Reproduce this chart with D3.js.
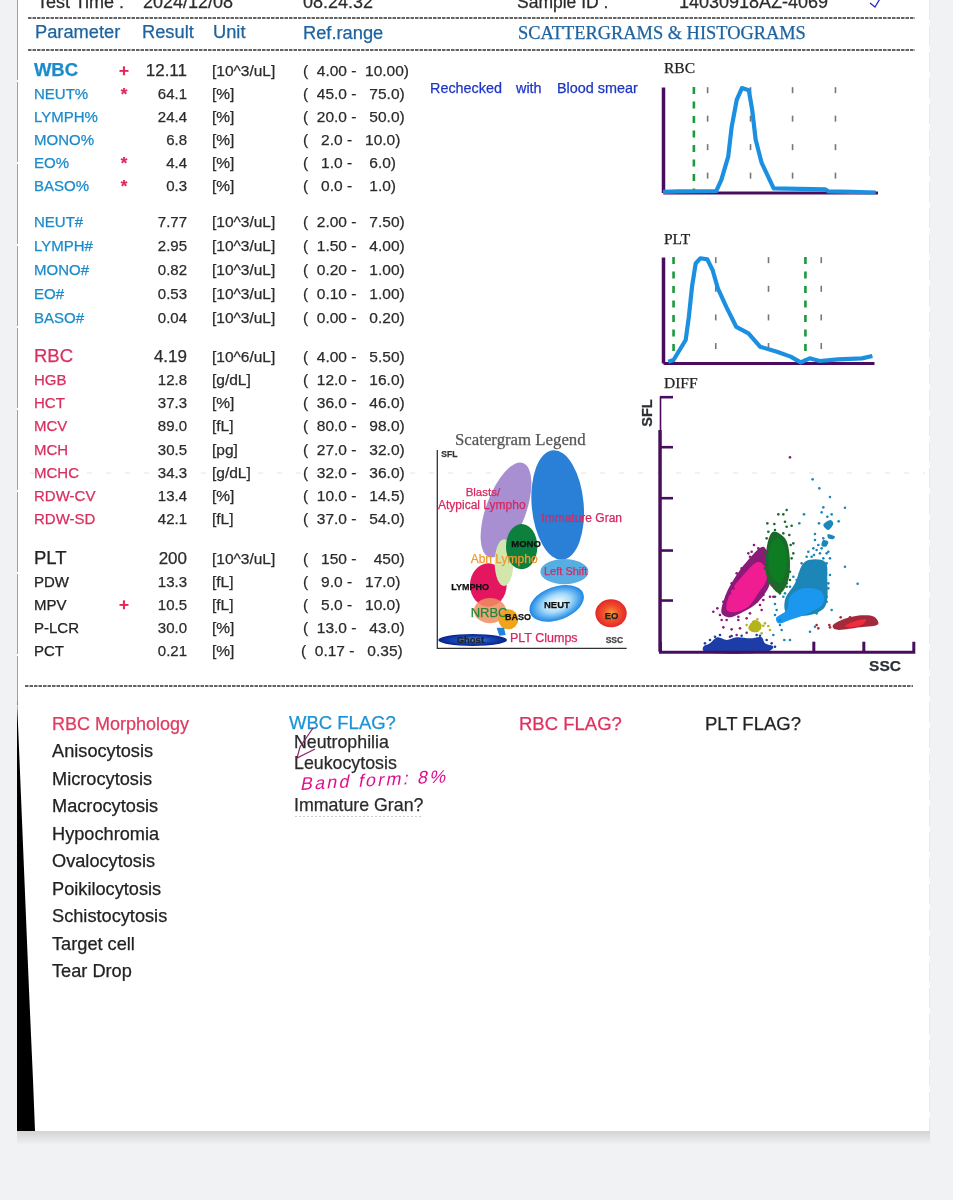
<!DOCTYPE html>
<html>
<head>
<meta charset="utf-8">
<script src="https://cdn.jsdelivr.net/npm/d3@7"></script>
<style>
  html, body { margin: 0; padding: 0; background: #f1f2f4; }
  svg { display: block; }
  text { font-family: "Liberation Sans", Arial, sans-serif; white-space: pre; }
  .serif { font-family: "Liberation Serif", serif; }
</style>
</head>
<body>
<svg width="953" height="1200"></svg>
<script>
// report table
var parameters = ["WBC","NEUT%","LYMPH%","MONO%","EO%","BASO%",
    "NEUT#","LYMPH#","MONO#","EO#","BASO#",
    "RBC","HGB","HCT","MCV","MCH","MCHC","RDW-CV","RDW-SD",
    "PLT","PDW","MPV","P-LCR","PCT"];
var results = ["12.11","64.1","24.4","6.8","4.4","0.3",
    "7.77","2.95","0.82","0.53","0.04",
    "4.19","12.8","37.3","89.0","30.5","34.3","13.4","42.1",
    "200","13.3","10.5","30.0","0.21"];
var units = ["[10^3/uL]","[%]","[%]","[%]","[%]","[%]",
    "[10^3/uL]","[10^3/uL]","[10^3/uL]","[10^3/uL]","[10^3/uL]",
    "[10^6/uL]","[g/dL]","[%]","[fL]","[pg]","[g/dL]","[%]","[fL]",
    "[10^3/uL]","[fL]","[fL]","[%]","[%]"];
var refLow = ["4.00","45.0","20.0","2.0","1.0","0.0",
    "2.00","1.50","0.20","0.10","0.00",
    "4.00","12.0","36.0","80.0","27.0","32.0","10.0","37.0",
    "150","9.0","5.0","13.0","0.17"];
var refHigh = ["10.00","75.0","50.0","10.0","6.0","1.0",
    "7.50","4.00","1.00","1.00","0.20",
    "5.50","16.0","46.0","98.0","32.0","36.0","14.5","54.0",
    "450","17.0","10.0","43.0","0.35"];
var flags = ["+","*","","","*","*",
    "","","","","",
    "","","","","","","","",
    "","","+","",""];
var groupSizes = [6, 5, 8, 5];

var morphology = ["Anisocytosis","Microcytosis","Macrocytosis","Hypochromia","Ovalocytosis",
    "Poikilocytosis","Schistocytosis","Target cell","Tear Drop"];
var wbcFlags = ["Neutrophilia","Leukocytosis","","Immature Gran?"];

// histograms: [volume in fL, relative count %]
var rbcCurve = [[0,0.5],[18,1],[62,1.4],[68,12],[76,34],[80,62],[86,88],[92,99],[100,97],[104,78],
    [108,50],[115,28],[129,4],[189,3],[193,1],[221,0.5],[248,0]];
var pltCurve = [[1,1.2],[2,2.8],[4.3,21.7],[4.9,43.7],[5.5,72],[6.2,94],[7.1,98.8],[8.4,97.8],[9.4,87.7],
    [10.4,70.4],[12,53],[13.9,34],[16.2,28],[18.4,15.4],[21.6,10.7],[24.2,6],[26.1,0.6],[27.8,4.4],
    [29.7,1.9],[33.2,3.5],[37.7,4.4],[39.7,6.6]];
var rbcGates = [36];
var pltGates = [2, 27];
var rbcGuideX = [52, 102, 151, 201];
var pltGuideX = [10, 20, 30];
var guideRows = [97, 70, 43, 16];

// DIFF scattergram, [SSC, SFL] channels. Dense populations are outlines, stray events are dots
var ghostArea = [[130,3],[130,15],[150,25],[172,43],[200,35],[230,43],[270,40],[305,43],[315,25],[340,15],[330,3]];
var lymphOuter = [[185,115],[195,165],[220,215],[260,270],[310,315],[328,275],[330,205],[295,150],[250,120],[205,103]];
var lymphInner = [[200,125],[210,175],[245,225],[295,270],[315,255],[320,215],[295,175],[265,135],[220,118]];
var monoOuter = [[325,335],[340,360],[375,340],[388,295],[385,215],[360,175],[335,195],[318,235]];
var monoInner = [[335,325],[355,340],[375,315],[380,255],[360,205],[335,225],[325,265]];
var neutUpper = [[435,270],[495,270],[502,215],[495,135],[450,110],[380,115],[375,155],[405,205]];
var neutLower = [[348,100],[380,125],[390,165],[430,190],[485,180],[490,145],[445,115],[390,95],[355,85]];
var neutSmallA = [[490,380],[512,395],[520,385],[505,365]];
var neutSmallB = [[490,335],[505,330],[497,315],[485,318]];
var neutSmallC = [[503,352],[525,345],[520,338],[505,340]];
var basoArea = [[265,70],[285,95],[305,80],[295,60],[275,60]];
var eoOuter = [[518,77],[550,97],[610,109],[645,103],[655,83],[600,73],[525,67]];
var eoInner = [[555,77],[590,93],[618,97],[610,83],[570,73]];

var neutDots = [[458,517],[478,490],[510,464],[555,432],[490,433],[485,418],[515,412],[502,405],[536,391],
    [477,385],[432,412],[418,385],[465,353],[465,335],[555,255],[593,204],[510,280],[500,295],[470,305],
    [480,295],[485,310],[462,290],[505,205],[500,165],[515,125],[350,125],[345,143],[370,165],[360,80],
    [365,65],[340,50],[390,35],[373,35],[450,60],[465,75],[440,285],[420,235],[410,215],[390,195],
    [500,265],[510,230],[505,190],[500,150],[470,115],[360,95],[345,110],[375,175],[400,225],[425,265],
    [455,285],[490,280],[445,300],[475,320],[460,310],[490,340],[505,300],[480,270]];
var monoDots = [[380,425],[355,412],[370,412],[322,385],[343,383],[375,390],[380,375],[395,378],[340,355],
    [325,360],[388,350],[400,325],[400,295],[390,215],[380,195],[360,175],[350,190],
    [320,340],[345,365],[370,355],[392,320],[395,280],[390,240],[380,205],[345,165],[325,205],[315,250],[312,300]];
var lymphDots = [[390,583],[282,320],[275,300],[265,295],[255,255],[235,220],[220,190],[210,175],[172,130],
    [160,120],[185,95],[200,95],[235,95],[260,100],[190,73],[215,67],[240,70],[260,57],[230,50],[210,45],
    [290,150],[310,155],[330,165],[340,165],[305,125],
    [180,110],[190,150],[200,165],[215,205],[230,235],[245,250],[270,285],[295,310],[320,300],[335,200],[310,170],[300,140],[270,115],[235,105]];
var basoDots = [[270,75],[280,90],[292,97],[288,80],[300,70],[315,85],[325,77],[282,63],[305,55],[330,65],
    [260,80],[295,87],[285,72],[310,78],[275,82]];
var eoDots = [[470,80],[475,70],[510,73],[508,80],[542,103],[570,103]];
var ghostDots = [[135,25],[150,35],[165,45],[180,50],[215,47],[245,48],[290,50],[300,48],[320,35],[335,25],[345,15]];
var sflTicks = [155, 305, 462, 615, 765];
var sscTicks = [460, 610];

// scattergram legend, [SSC, SFL, rx, ry, tilt] in the legend's own units
var legendNames = ["Blast","Immature","LeftShift","Lympho","Nrbc","Abn","Mono","Baso","Neut","Eo","Ghost"];
var legendShapes = [[206,415,60,150,20],[361,430,78,165,-5],[381,230,72,38,0],[153,190,55,65,0],[158,113,48,38,0],
    [200,257,28,70,0],[253,305,47,68,0],[213,87,30,30,0],[358,135,85,50,-20],[521,105,47,42,0],[106,25,103,18,0]];
var legendFills = ["#a78fd2","#2a80d6","#58aee2","#e4175f","#ee8d62","#d3e6ad","#10803c","#f0a41c",
    "url(#neutGrad)","url(#eoGrad)","url(#ghostGrad)"];
var legendLabels = ["Blasts/","Atypical Lympho","Immature Gran","MONO","Abn Lympho","Left Shift","LYMPHO","NRBC","BASO","NEUT","EO","Ghost","PLT Clumps","SSC","SFL"];
var legendLabelAt = [[85,458],[2,418],[312,380],[222,305],[100,255],[320,220],[42,175],[100,95],[203,85],[320,120],[502,88],[58,15],[218,20],[505,15],[12,575]];
var legendColors = ["#d6285f","#d6285f","#d6285f","#111","#f09a2e","#d6285f","#111","#1d8a3a","#111","#111","#222","#222","#d6285f","#444","#333"];
var legendSizes = [11.5,12,12,9.5,12,11,9,13,9,9.5,9.5,9.5,12.5,8.5,8.5];

var svg = d3.select("svg");

var defs = svg.append("defs");
defs.append("filter").attr("id", "soft")
    .attr("x", 0).attr("y", 0).attr("width", "100%").attr("height", "100%")
    .append("feGaussianBlur").attr("stdDeviation", 0.4);
function radial(id, stops) {
    var g = defs.append("radialGradient").attr("id", id);
    stops.forEach(function (s, i) {
        g.append("stop").attr("offset", i / (stops.length - 1)).attr("stop-color", s);
    });
}
radial("neutGrad", ["#ffffff", "#a8dcf8", "#1b86e6"]);
radial("eoGrad", ["#f6a23a", "#f0532c", "#e5262a"]);
radial("ghostGrad", ["#5aa0d8", "#1a4ab8", "#07208c"]);
var shade = defs.append("linearGradient").attr("id", "paperShade")
    .attr("x1", 0).attr("x2", 0).attr("y1", 0).attr("y2", 1);
shade.append("stop").attr("offset", 0).attr("stop-color", "#d2d3d5");
shade.append("stop").attr("offset", 1).attr("stop-color", "#f1f2f4");

// paper
svg.append("rect").attr("width", 953).attr("height", 1200).attr("fill", "#f1f2f4");
svg.append("rect").attr("x", 17).attr("y", 1131).attr("width", 913).attr("height", 14).attr("fill", "url(#paperShade)");
svg.append("rect").attr("x", 17).attr("width", 913).attr("height", 1131).attr("fill", "#fff");
svg.append("line").attr("x1", 17.5).attr("x2", 17.5).attr("y1", 0).attr("y2", 705)
    .attr("stroke", "#888").attr("stroke-width", 0.8).attr("stroke-dasharray", "80 2");
svg.append("line").attr("x1", 929.5).attr("x2", 929.5).attr("y1", 0).attr("y2", 1131)
    .attr("stroke", "#e2e2e2").attr("stroke-width", 0.8).attr("stroke-dasharray", "20 6");
svg.append("path").attr("d", "M17,700L29,990L33,1080L35,1131L17,1131Z").attr("fill", "#000");

var page = svg.append("g").attr("filter", "url(#soft)");

function label(parent, x, y, str, size, color, cls) {
    return parent.append("text").attr("class", cls || null).attr("x", x).attr("y", y)
        .attr("font-size", size).attr("fill", color).text(str);
}

// cut off top line
var topText = "#2b2b2b";
label(page, 37, 8, "Test Time :", 18, topText);
label(page, 143, 8, "2024/12/08", 18, topText);
label(page, 303, 8, "08:24:32", 18, topText);
label(page, 517, 8, "Sample ID :", 17.5, topText);
label(page, 679, 8, "14030918AZ-4069", 18, topText);
page.append("path").attr("d", "M870,3L875,7L881,-3").attr("fill", "none").attr("stroke", "#2a2ac0").attr("stroke-width", 1.3);

[[18, 28, 915], [50, 28, 915], [686, 25, 913]].forEach(function (d) {
    page.append("line").attr("x1", d[1]).attr("x2", d[2]).attr("y1", d[0]).attr("y2", d[0])
        .attr("stroke", "#333").attr("stroke-width", 1.5).attr("stroke-dasharray", "3.5 1");
});
// faint bleed-through from the scanner
page.append("line").attr("x1", 30).attr("x2", 925).attr("y1", 473).attr("y2", 473)
    .attr("stroke", "#e4e4e4").attr("stroke-width", 1).attr("stroke-dasharray", "5 14");

var headColor = "#1d639f";
label(page, 35, 38, "Parameter", 18.3, headColor);
label(page, 142, 38, "Result", 18.3, headColor);
label(page, 213, 38, "Unit", 18.3, headColor);
label(page, 303, 39, "Ref.range", 18.3, headColor);
label(page, 518, 39, "SCATTERGRAMS & HISTOGRAMS", 18.4, headColor, "serif");

// table rows, positioned per group
var groupY = [d3.scaleLinear().domain([0, 5]).range([76, 191]),
    d3.scaleLinear().domain([0, 4]).range([227, 323]),
    d3.scaleLinear().domain([0, 7]).range([362, 524]),
    d3.scaleLinear().domain([0, 4]).range([564, 656])];
var groupColor = ["#1b8bca", "#1b8bca", "#d8305f", "#222"];
var rows = [];
var start = 0;
groupSizes.forEach(function (n, g) {
    d3.range(n).forEach(function (i) {
        rows.push({ i: start + i, g: g, y: groupY[g](i), big: i === 0 && g !== 1 });
    });
    start += n;
});

var row = page.selectAll(".row").data(rows).enter().append("g").attr("class", "row");
row.append("text").attr("x", 34).attr("y", function (d) { return d.big && d.g === 0 ? d.y - 0.5 : d.y; })
    .attr("font-size", function (d) { return d.big ? 18.5 : 15; })
    .attr("font-weight", function (d) { return d.g === 0 && d.big ? "bold" : null; })
    .attr("textLength", function (d) { return d.g === 0 && d.big ? 44 : null; })
    .attr("fill", function (d) { return groupColor[d.g]; })
    .text(function (d) { return parameters[d.i]; });
row.append("text").attr("x", 124).attr("text-anchor", "middle")
    .attr("y", function (d) { return flags[d.i] === "*" ? d.y + 1 : d.y - 0.5; })
    .attr("font-size", 17).attr("font-weight", "bold").attr("fill", "#e3245a")
    .text(function (d) { return flags[d.i]; });
row.append("text").attr("x", 187).attr("y", function (d) { return d.y; }).attr("text-anchor", "end")
    .attr("font-size", function (d) { return d.big ? 17 : 15; }).attr("fill", "#2b2b2b")
    .text(function (d) { return results[d.i]; });
row.append("text").attr("x", 212).attr("y", function (d) { return d.y; })
    .attr("font-size", 15.5).attr("fill", "#2b2b2b")
    .text(function (d) { return units[d.i]; });
row.append("text").attr("x", function (d) { return parameters[d.i] === "PCT" ? 301 : 303; })
    .attr("y", function (d) { return d.y; })
    .attr("font-size", 15.5).attr("fill", "#2b2b2b")
    .text(function (d) {
        return "(  " + refLow[d.i].padStart(4) + " - " + refHigh[d.i].padStart(6) + ")";
    });

[["Rechecked", 430], ["with", 516], ["Blood smear", 557]].forEach(function (d) {
    label(page, d[1], 92.5, d[0], 14.4, "#1c35c4");
});

// histograms
function histogram(title, titleY, curve, xMax, xRange, yRange, gates, guideX) {
    var x = d3.scaleLinear().domain([0, xMax]).range(xRange);
    var y = d3.scaleLinear().domain([0, 100]).range(yRange);
    var g = page.append("g");
    label(g, 664, titleY, title, 15.5, "#222", "serif");

    guideRows.forEach(function (r) {
        g.selectAll(null).data(guideX).enter().append("line")
            .attr("x1", function (d) { return x(d); }).attr("x2", function (d) { return x(d); })
            .attr("y1", y(r) - 3).attr("y2", y(r) + 3)
            .attr("stroke", "#777").attr("stroke-width", 1.6);
    });
    g.selectAll(null).data(gates).enter().append("line")
        .attr("x1", function (d) { return x(d); }).attr("x2", function (d) { return x(d); })
        .attr("y1", y(100)).attr("y2", y(0))
        .attr("stroke", "#1b9a3c").attr("stroke-width", 2.6).attr("stroke-dasharray", "7 7.5");

    var axisColor = "#4a0f5e";
    var bottom = g.append("g").attr("transform", "translate(0," + y(0) + ")")
        .call(d3.axisBottom(x).tickSize(0).tickValues([]));
    bottom.select(".domain").attr("stroke", axisColor).attr("stroke-width", 3);
    var left = g.append("g").attr("transform", "translate(" + x(0) + ",0)")
        .call(d3.axisLeft(y).tickSize(0).tickValues([]));
    left.select(".domain").attr("stroke", axisColor).attr("stroke-width", 3.5);

    g.append("path").datum(curve)
        .attr("fill", "none").attr("stroke", "#1c90e0").attr("stroke-width", 4.2)
        .attr("stroke-linejoin", "round")
        .attr("d", d3.line().x(function (d) { return x(d[0]); }).y(function (d) { return y(d[1]); }));
}
histogram("RBC", 73, rbcCurve, 250, [663, 877.5], [192.5, 87], rbcGates, rbcGuideX);
histogram("PLT", 244, pltCurve, 40, [663, 874], [363, 257], pltGates, pltGuideX);

// DIFF scattergram
var ssc = d3.scaleLinear().domain([0, 760]).range([660, 913.3]);
var sfl = d3.scaleLinear().domain([0, 765]).range([651.7, 396.7]);
var blob = d3.line().x(function (d) { return ssc(d[0]); }).y(function (d) { return sfl(d[1]); })
    .curve(d3.curveCatmullRomClosed.alpha(0.5));

label(page, 664, 388, "DIFF", 15.5, "#222", "serif");

var diff = page.append("g");
[[ghostArea, "#1b3ca8"], [lymphOuter, "#8a1a78"], [lymphInner, "#ef1a92"], [monoOuter, "#1a6b2c"],
    [monoInner, "#0f7c20"], [neutUpper, "#1c86b8"], [neutLower, "#1a97f0"], [neutSmallA, "#1c86b8"],
    [neutSmallB, "#1c86b8"], [neutSmallC, "#1c86b8"], [basoArea, "#b4b41e"], [eoOuter, "#a42b3a"], [eoInner, "#f22a3c"]]
    .forEach(function (d) {
        diff.append("path").datum(d[0]).attr("d", blob).attr("fill", d[1]);
    });
[[neutDots, "#1c86b8"], [monoDots, "#1a6b2c"], [lymphDots, "#8a1a78"], [basoDots, "#b4b41e"], [eoDots, "#a42b3a"], [ghostDots, "#1b3ca8"]]
    .forEach(function (d) {
        diff.selectAll(null).data(d[0]).enter().append("circle")
            .attr("cx", function (p) { return ssc(p[0]); })
            .attr("cy", function (p) { return sfl(p[1]); })
            .attr("r", 1.3).attr("fill", d[1]);
    });

var diffColor = "#4a0f5e";
var sscAxis = page.append("g").attr("transform", "translate(0," + sfl(0) + ")")
    .call(d3.axisTop(ssc).tickValues(sscTicks).tickSizeOuter(0).tickSize(10).tickFormat(""));
var sflAxis = page.append("g").attr("transform", "translate(" + ssc(0) + ",0)")
    .call(d3.axisRight(sfl).tickValues(sflTicks).tickSizeOuter(0).tickSize(13).tickFormat(""));
sscAxis.select(".domain").attr("stroke", diffColor).attr("stroke-width", 3);
sflAxis.select(".domain").attr("stroke", diffColor).attr("stroke-width", 1.6);
sscAxis.selectAll(".tick line").attr("stroke", diffColor).attr("stroke-width", 3);
sflAxis.selectAll(".tick line").attr("stroke", diffColor).attr("stroke-width", 2.6);
// the thick part of the SFL axis stops below the top tick
page.append("line").attr("x1", ssc(0)).attr("x2", ssc(0)).attr("y1", sfl(0)).attr("y2", sfl(665))
    .attr("stroke", diffColor).attr("stroke-width", 3.4);

label(page, 885, 671, "SSC", 15.5, "#2b3038").attr("font-family", "DejaVu Sans").attr("text-anchor", "middle").attr("font-weight", "bold");
page.append("text").attr("transform", "translate(652,413) rotate(-90)").attr("text-anchor", "middle")
    .attr("font-size", 14.5).attr("font-weight", "bold").attr("fill", "#2b3038").attr("font-family", "DejaVu Sans").text("SFL");

// scattergram legend
var lx = d3.scaleLinear().domain([0, 568]).range([437.3, 626.7]);
var ly = d3.scaleLinear().domain([0, 595]).range([648.3, 450]);
var legend = page.append("g");
label(legend, 455, 445, "Scatergram Legend", 16.8, "#555", "serif");

legend.selectAll("ellipse").data(legendShapes).enter().append("ellipse")
    .attr("rx", function (d) { return d[2] / 3; })
    .attr("ry", function (d) { return d[3] / 3; })
    .attr("transform", function (d) { return "translate(" + lx(d[0]) + "," + ly(d[1]) + ") rotate(" + d[4] + ")"; })
    .attr("fill", function (d, i) { return legendFills[i]; })
    .attr("fill-opacity", function (d, i) { return legendNames[i] === "Nrbc" ? 0.85 : 1; });
legend.append("path").attr("fill", "#2283de")
    .attr("d", d3.line()([[lx(178), ly(62)], [lx(200), ly(62)], [lx(205), ly(40)], [lx(186), ly(38)]]) + "Z");

legend.append("path").attr("stroke", "#333").attr("stroke-width", 1.3).attr("fill", "none")
    .attr("d", d3.line()([[lx(0), ly(595)], [lx(0), ly(0)], [lx(568), ly(0)]]));

legend.selectAll(".legendLabel").data(legendLabels).enter().append("text")
    .attr("class", "legendLabel")
    .attr("x", function (d, i) { return lx(legendLabelAt[i][0]); })
    .attr("y", function (d, i) { return ly(legendLabelAt[i][1]); })
    .attr("font-size", function (d, i) { return legendSizes[i]; })
    .attr("fill", function (d, i) { return legendColors[i]; })
    .attr("font-weight", function (d, i) { return legendSizes[i] < 10 ? "bold" : null; })
    .text(function (d) { return d; });

// lower part
label(page, 52, 730, "RBC Morphology", 18, "#e03a60");
var morphY = d3.scaleLinear().domain([0, 8]).range([757, 977]);
page.selectAll(".morph").data(morphology).enter().append("text").attr("class", "morph")
    .attr("x", 52).attr("y", function (d, i) { return morphY(i); })
    .attr("font-size", 18.2).attr("fill", "#222")
    .text(function (d) { return d; });

label(page, 289, 729, "WBC FLAG?", 18.5, "#1b93d6");
label(page, 519, 730, "RBC FLAG?", 18.5, "#e0305f");
label(page, 705, 730, "PLT FLAG?", 18.5, "#222");
var flagY = d3.scaleLinear().domain([0, 3]).range([748, 811]);
page.selectAll(".wbcFlag").data(wbcFlags).enter().append("text").attr("class", "wbcFlag")
    .attr("x", 294).attr("y", function (d, i) { return flagY(i); })
    .attr("font-size", 17.8).attr("fill", "#2b2b2b")
    .text(function (d) { return d; });
page.append("line").attr("x1", 295).attr("x2", 422).attr("y1", 816.5).attr("y2", 816.5)
    .attr("stroke", "#ccc").attr("stroke-width", 1).attr("stroke-dasharray", "2 2");

// pen marks
page.append("path").attr("d", "M313,728L300,747L297,758L315,749")
    .attr("stroke", "#8b2468").attr("fill", "none").attr("stroke-width", 1.2);

// the scan makes all print look a little heavier
page.selectAll("text").each(function () {
    var t = d3.select(this);
    t.attr("stroke", t.attr("fill")).attr("stroke-width", 0.25);
});

// handwritten note, added after the heavier print so it stays a thin pen line
page.append("text").attr("transform", "translate(300,790) rotate(-3) skewX(-14)")
    .attr("font-family", "Noto Sans").attr("font-weight", 300).attr("font-size", 18).attr("fill", "#e0108c")
    .attr("letter-spacing", 2.2)
    .text("Band form: 8%");
</script>
</body>
</html>
